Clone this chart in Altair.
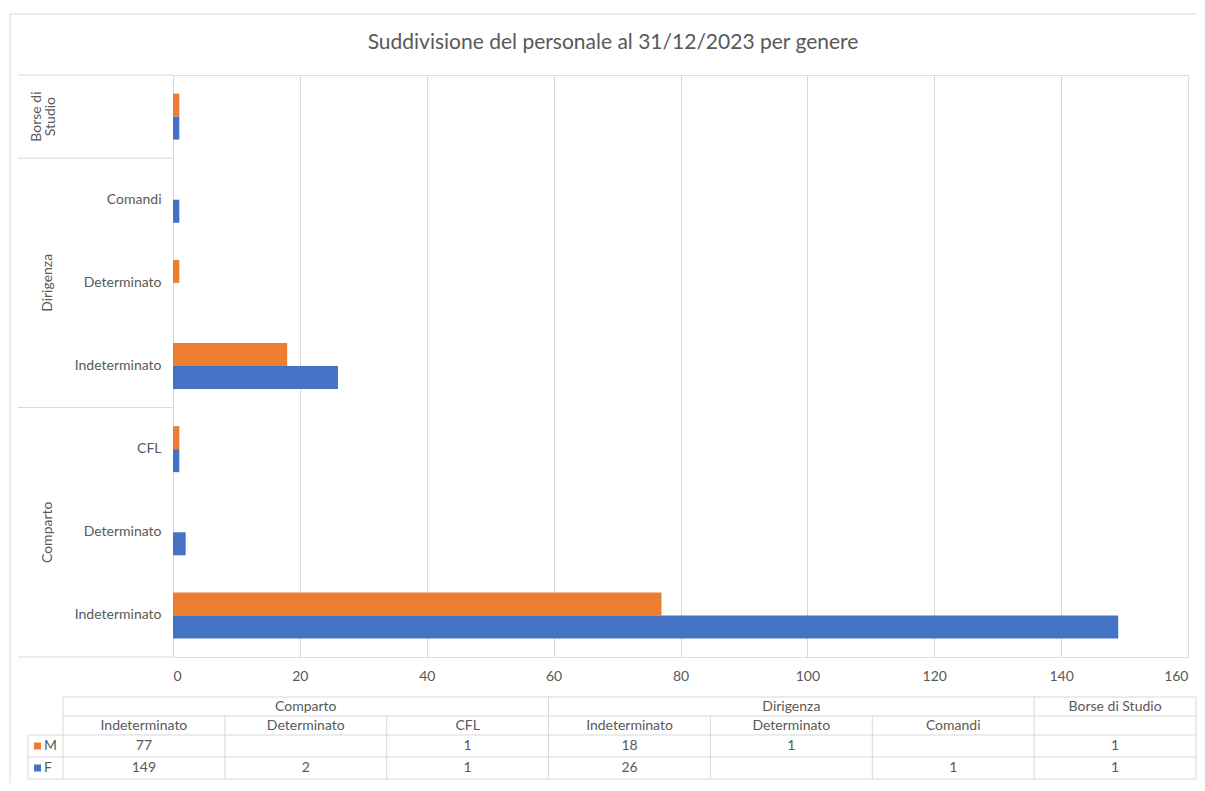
import altair as alt
import pandas as pd

# ---------------- data ----------------
groups = ["Comparto", "Comparto", "Comparto", "Dirigenza", "Dirigenza", "Dirigenza", "Borse di Studio"]
subs = ["Indeterminato", "Determinato", "CFL", "Indeterminato", "Determinato", "Comandi", ""]
m_values = [77, None, 1, 18, 1, None, 1]
f_values = [149, 2, 1, 26, None, 1, 1]
sexes = ["M", "F"]
sex_colors = ["#ED7D31", "#4472C4"]
x_ticks = [0, 20, 40, 60, 80, 100, 120, 140, 160]
title_text = "Suddivisione del personale al 31/12/2023 per genere"

# ---------------- style ----------------
FONT = "Lato"
TXT = "#595959"
GRID = "#D9D9D9"
FS = 14

keys = [f"{g}|{s}" for g, s in zip(groups, subs)]
rows = []
for k, g, s, m, f in zip(keys, groups, subs, m_values, f_values):
    rows.append(dict(key=k, group=g, sub=s, sex="M", value=m))
    rows.append(dict(key=k, group=g, sub=s, sex="F", value=f))
long = pd.DataFrame(rows)
vals = long.dropna(subset=["value"]).copy()
vals["value"] = vals["value"].astype(int)

# group label data (middle key of each group)
grp_rows = []
for g in dict.fromkeys(groups):
    ks = [k for k, gg in zip(keys, groups) if gg == g]
    grp_rows.append(dict(key=ks[len(ks) // 2], label=g))
grp_df = pd.DataFrame(grp_rows)

one = pd.DataFrame({"a": [0]})

y_scale = alt.Scale(domain=keys[::-1], paddingInner=0, paddingOuter=0)
y_axis = alt.Axis(title=None, labelExpr="split(datum.value, '|')[1]", ticks=False,
                  domain=True, domainColor=GRID, labelPadding=12, labelFontSize=FS,
                  labelColor=TXT, labelFont=FONT, grid=False)
tx_scale = alt.Scale(domain=keys, range=[-110, 1023], paddingInner=0, paddingOuter=0)


def hline(y, x1, x2):
    return alt.Chart(one).mark_rule(color=GRID, strokeWidth=1).encode(
        x=alt.value(x1), x2=alt.value(x2), y=alt.value(y))


def vline(x, y1, y2):
    return alt.Chart(one).mark_rule(color=GRID, strokeWidth=1).encode(
        x=alt.value(x), y=alt.value(y1), y2=alt.value(y2))


# chart border (left + top)
border = [hline(-61, -163, 1024), vline(-163, -61, 708)]

title = alt.Chart(one).mark_text(text=title_text, font=FONT, fontSize=21, color=TXT,
                                 align="center", baseline="middle").encode(
    x=alt.value(440), y=alt.value(-32))

bars = alt.Chart(vals).mark_bar().encode(
    x=alt.X("value:Q", scale=alt.Scale(domain=[0, 160], nice=False),
            axis=alt.Axis(values=x_ticks, title=None, grid=True, gridColor=GRID, ticks=False,
                          domain=False, labelPadding=12, labelFontSize=FS, labelColor=TXT,
                          labelFont=FONT)),
    y=alt.Y("key:N", scale=y_scale, axis=y_axis),
    yOffset=alt.YOffset("sex:N", scale=alt.Scale(domain=sexes, paddingInner=0, paddingOuter=0.807)),
    color=alt.Color("sex:N", scale=alt.Scale(domain=sexes, range=sex_colors), legend=None),
)

# group separators on the category axis
sep_keys = [keys[i] for i in range(len(keys)) if i == len(keys) - 1 or groups[i] != groups[i + 1]]
sep_top = alt.Chart(pd.DataFrame({"key": sep_keys})).mark_rule(color=GRID).encode(
    x=alt.value(-155), x2=alt.value(0),
    y=alt.Y("key:N", scale=y_scale, axis=y_axis, bandPosition=0))
sep_bottom = alt.Chart(pd.DataFrame({"key": [keys[0]]})).mark_rule(color=GRID).encode(
    x=alt.value(-155), x2=alt.value(0),
    y=alt.Y("key:N", scale=y_scale, axis=y_axis, bandPosition=1))

grp_text = alt.Chart(grp_df).transform_filter("datum.label != 'Borse di Studio'").mark_text(
    angle=270, font=FONT, fontSize=FS, color=TXT, align="center", baseline="middle").encode(
    x=alt.value(-125),
    y=alt.Y("key:N", scale=y_scale, axis=y_axis, bandPosition=0.5),
    text=alt.Text("label:N"))
borse_text = alt.Chart(grp_df).transform_filter("datum.label == 'Borse di Studio'").transform_calculate(
    lbl="replace(datum.label, 'di ', 'di|')").mark_text(
    angle=270, font=FONT, fontSize=FS, color=TXT, align="center", baseline="middle",
    lineBreak="|", lineHeight=14).encode(
    x=alt.value(-136),
    y=alt.Y("key:N", scale=y_scale, axis=y_axis, bandPosition=0.5),
    text=alt.Text("lbl:N"))

# ---------------- data table ----------------
def table_text(df, field, yv, fmt=None):
    t = alt.Text(f"{field}:Q", format=fmt) if fmt else alt.Text(f"{field}:N")
    return alt.Chart(df).mark_text(font=FONT, fontSize=FS, color=TXT, align="center",
                                   baseline="middle").encode(
        x=alt.X("key:N", scale=tx_scale, axis=None, bandPosition=0.5),
        y=alt.value(yv), text=t)


h1 = table_text(grp_df, "label", 631.5)
h2 = table_text(pd.DataFrame({"key": keys, "sub": subs}), "sub", 650.5)
row_m = table_text(vals[vals.sex == "M"], "value", 671, "d")
row_f = table_text(vals[vals.sex == "F"], "value", 693, "d")

legend_layers = []
for s, c, yv in zip(sexes, sex_colors, [671, 693]):
    legend_layers.append(alt.Chart(one).mark_square(size=49, color=c, opacity=1).encode(
        x=alt.value(-135.5), y=alt.value(yv)))
    legend_layers.append(alt.Chart(one).mark_text(text=s, font=FONT, fontSize=FS, color=TXT,
                                                   align="left", baseline="middle").encode(
        x=alt.value(-129), y=alt.value(yv)))

t_lines = [hline(622, -110, 1023), hline(641, -110, 1023), hline(660, -145, 1023),
           hline(682, -145, 1023), hline(704, -145, 1023), vline(-145, 660, 704)]
grp_start = [keys[i] for i in range(len(keys)) if i == 0 or groups[i] != groups[i - 1]]
inner_start = [k for k in keys if k not in grp_start]
v_grp = alt.Chart(pd.DataFrame({"key": grp_start})).mark_rule(color=GRID).encode(
    x=alt.X("key:N", scale=tx_scale, axis=None, bandPosition=0),
    y=alt.value(622), y2=alt.value(704))
v_inner = alt.Chart(pd.DataFrame({"key": inner_start})).mark_rule(color=GRID).encode(
    x=alt.X("key:N", scale=tx_scale, axis=None, bandPosition=0),
    y=alt.value(641), y2=alt.value(704))
v_end = alt.Chart(pd.DataFrame({"key": [keys[-1]]})).mark_rule(color=GRID).encode(
    x=alt.X("key:N", scale=tx_scale, axis=None, bandPosition=1),
    y=alt.value(622), y2=alt.value(704))

chart = alt.layer(
    *border, title, bars, sep_top, sep_bottom, grp_text, borse_text,
    *t_lines, v_grp, v_inner, v_end, h1, h2, row_m, row_f, *legend_layers
).resolve_scale(x="independent").properties(
    width=1015, height=582,
    autosize=alt.AutoSizeParams(type="none"),
    padding={"left": 165, "top": 67, "right": 9, "bottom": 126},
).configure_view(stroke=None).configure(background="white")

chart.save("out.html", embed_options={"renderer": "svg", "actions": False})
